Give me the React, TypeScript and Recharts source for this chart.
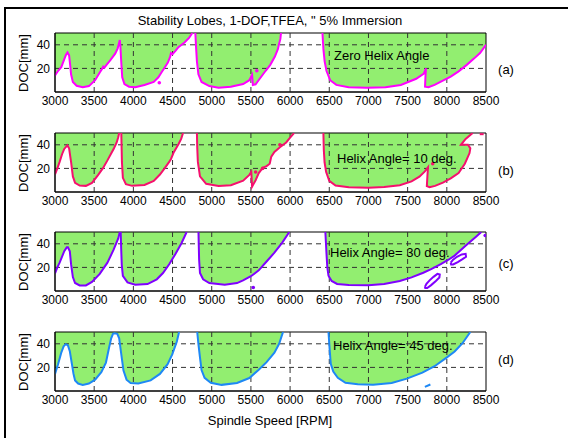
import React from 'react';
import {
  ComposedChart, Area, Line, Scatter, XAxis, YAxis, ReferenceLine, ReferenceArea,
} from 'recharts';

type P = [number, number];

const RPM_TICKS = [3000, 3500, 4000, 4500, 5000, 5500, 6000, 6500, 7000, 7500, 8000, 8500];
const DOC_TICKS = [20, 40];
const GRID_X = [3500, 4000, 4500, 5000, 5500, 6000, 6500, 7000, 7500, 8000];
const TOP = 50;

// ---- Panel (a): zero helix angle ----
const lobeA1: P[] = [[3000,14],[3040,18],[3080,21],[3120,28],[3140,31.5],[3160,33.5],[3180,31],[3195,22],[3205,15],[3228,8.5],[3276,5.3],[3354,4],[3433,5],[3512,10],[3571,16.5],[3600,19.5],[3615,21.5],[3630,20.5],[3650,22.4],[3709,27.2],[3768,32.5],[3800,37],[3815,41],[3827,44],[3835,38],[3845,26],[3858,12.5],[3886,6.7],[3945,4.5],[4024,4],[4142,5.9],[4260,8.5],[4319,12.5],[4358,16.5],[4398,20.5],[4440,25],[4470,30],[4480,33],[4500,32],[4540,35],[4575,38],[4653,42],[4713,46],[4752,50]];
const lobeA2: P[] = [[4791,50],[4800,38],[4811,26],[4830,15],[4870,8.5],[4969,5],[5087,3.7],[5244,4.5],[5401,6.7],[5480,10],[5515,14.5],[5525,6],[5560,6.5],[5610,11],[5688,18],[5747,23],[5806,30],[5845,36.5],[5860,41],[5876,45],[5884,50]];
const lobeA3: P[] = [[6413,50],[6425,36.5],[6441,26],[6464,18],[6511,10],[6590,6],[6747,4],[6982,3.5],[7217,4],[7413,6],[7609,11.2],[7707,15.7],[7734,20],[7727,12.5],[7722,4.5],[7766,4],[7844,6],[7962,10],[8050,13],[8150,17.5],[8254,23],[8350,28.5],[8424,33],[8500,40]];
const dotsA: P[] = [[4331,7.8],[5575,18]];

// ---- Panel (b): helix angle 10 deg ----
const lobeB1: P[] = [[3000,15],[3030,20],[3059,25.5],[3090,32],[3118,36.5],[3157,39.5],[3180,37],[3195,30],[3205,25.5],[3228,13.2],[3256,7.7],[3315,5.5],[3394,5.2],[3472,7.7],[3551,14.5],[3610,20],[3669,26.8],[3720,33],[3748,36.4],[3787,42],[3805,46],[3819,50]];
const lobeB2: P[] = [[3846,50],[3850,38],[3854,25.5],[3866,12],[3905,6.6],[3984,5.2],[4142,6],[4260,9.3],[4339,14.8],[4398,20],[4430,23],[4457,25.5],[4480,28],[4516,33.7],[4575,40.5],[4610,45],[4634,50]];
const lobeB3: P[] = [[4811,50],[4815,38],[4823,25.5],[4850,13.2],[4929,6.9],[5087,5],[5244,5.8],[5401,9.6],[5480,14.5],[5505,17],[5515,4.5],[5560,10],[5600,16],[5650,20.5],[5700,22],[5740,24],[5760,30],[5800,34],[5870,38],[5950,42],[6000,46],[6050,50]];
const lobeB4: P[] = [[6425,50],[6430,36],[6440,25],[6460,17],[6500,9.5],[6580,5.5],[6750,4],[7000,3.5],[7200,4.2],[7400,5.8],[7550,9],[7650,13],[7720,17.5],[7760,21],[7752,13],[7745,5],[7780,4],[7850,5.2],[7950,8],[8050,11.5],[8150,16],[8230,24],[8290,33],[8300,37],[8270,40],[8180,40],[8240,45],[8330,50]];
const segB5: P[] = [[8420,49],[8470,49]];
const dotsB: P[] = [[5560,17],[5650,20],[5870,40],[7820,24]];

// ---- Panel (c): helix angle 30 deg ----
const lobeC1: P[] = [[3000,15],[3030,20],[3059,24],[3118,33.7],[3150,37],[3165,37],[3189,33.7],[3205,22.7],[3228,11.8],[3256,6.8],[3315,4.7],[3394,4.7],[3472,7.7],[3571,14.5],[3669,24],[3748,35],[3807,44.6],[3827,50]];
const lobeC2: P[] = [[3838,50],[3845,35],[3852,22],[3866,12.9],[3925,7.3],[4024,5.3],[4181,5.9],[4299,9.9],[4378,15.2],[4457,22.7],[4535,31.2],[4614,40.5],[4680,50]];
const lobeC3: P[] = [[4831,50],[4835,38],[4839,26.7],[4850,15.2],[4890,9.9],[4969,6.7],[5166,5.3],[5323,6.7],[5400,9],[5500,12.5],[5600,17.5],[5700,25],[5800,32.5],[5900,41],[5990,50]];
const lobeC4: P[] = [[6450,50],[6458,40],[6465,31],[6475,20],[6490,13],[6530,8.5],[6600,6],[6750,5],[7000,4.8],[7200,6],[7400,8.5],[7550,11.5],[7700,15.5],[7800,18.5],[7923,22.7],[8021,26.5],[8100,30],[8250,39],[8380,46.5],[8440,50]];
const loopC1: P[] = [[7720,3.5],[7740,6],[7780,9],[7830,12],[7880,14.5],[7910,14],[7905,11.5],[7860,8.5],[7800,5],[7750,2.5],[7725,2.5],[7720,3.5]];
const loopC2: P[] = [[8050,24],[8080,26.5],[8130,29],[8190,31],[8240,31.5],[8245,29],[8200,27],[8140,24.5],[8080,22.5],[8055,22.5],[8050,24]];
const dotsC: P[] = [[5530,3],[8490,47]];

// ---- Panel (d): helix angle 45 deg ----
const lobeD1: P[] = [[3000,14.5],[3039,22.7],[3079,32.3],[3110,37.8],[3138,39.7],[3165,38.6],[3189,33.7],[3216,22.7],[3236,14.5],[3256,9],[3295,6.3],[3354,5.2],[3433,6.3],[3512,9.6],[3591,15.9],[3650,24.1],[3689,36.4],[3717,44.6],[3740,48.5],[3760,49],[3795,48.5],[3819,44.6],[3846,31],[3874,17.3],[3913,9.6],[3965,6.8],[4063,6.3],[4220,9],[4339,14.5],[4437,22.7],[4496,31],[4555,41.9],[4583,50]];
const lobeD2: P[] = [[4815,50],[4830,40],[4850,28.5],[4870,17.8],[4909,11.2],[4988,7],[5126,5.2],[5323,6.8],[5480,11],[5600,18],[5700,24.5],[5800,32.5],[5860,40],[5910,50]];
const lobeD3: P[] = [[6490,50],[6500,40],[6504,36],[6519,23],[6551,16.5],[6609,11.2],[6707,7],[6864,5.7],[7060,5.3],[7296,6.8],[7491,10.5],[7688,15.5],[7844,21],[8001,28.5],[8100,33.5],[8200,40.5],[8300,50]];
const segD4: P[] = [[7720,3.5],[7790,5.5]];

const GREEN = '#92EE70';
const FONT = '"Liberation Sans", Arial, sans-serif';

const toRows = (pts: P[]) => pts.map(([rpm, doc]) => ({ rpm, doc }));

type PanelDef = {
  top: number;
  color: string;
  lobes: P[][];
  loops: P[][];
  dots: P[];
  tag: string;
  tagY: number;
  note: string;
  noteX: number;
  noteY: number;
};

const PANELS: PanelDef[] = [
  { top: 33, color: '#FF00FF', lobes: [lobeA1, lobeA2, lobeA3], loops: [], dots: dotsA, tag: '(a)', tagY: 69, note: 'Zero Helix Angle', noteX: 334, noteY: 55 },
  { top: 133, color: '#F5106E', lobes: [lobeB1, lobeB2, lobeB3, lobeB4], loops: [segB5], dots: dotsB, tag: '(b)', tagY: 170, note: 'Helix Angle= 10 deg.', noteX: 337, noteY: 158 },
  { top: 232, color: '#8000FF', lobes: [lobeC1, lobeC2, lobeC3, lobeC4], loops: [loopC1, loopC2], dots: dotsC, tag: '(c)', tagY: 263, note: 'Helix Angle= 30 deg.', noteX: 330, noteY: 252 },
  { top: 332, color: '#1E88F5', lobes: [lobeD1, lobeD2, lobeD3], loops: [segD4], dots: [], tag: '(d)', tagY: 359, note: 'Helix Angle= 45 deg.', noteX: 333, noteY: 345 },
];

const PLOT_H = 59;

function Panel({ p }: { p: PanelDef }) {
  const color = p.color;
  return (
    <div style={{ position: 'absolute', left: 0, top: p.top - 5 }}>
      <ComposedChart width={568} height={5 + PLOT_H + 25} margin={{ top: 5, right: 82, bottom: 0, left: 25 }}>
        <XAxis
          type="number" dataKey="rpm" domain={[3000, 8500]} ticks={RPM_TICKS} interval={0}
          allowDataOverflow height={25} tickSize={0} tickMargin={4}
          tick={{ fontSize: 12, fill: '#000', fontFamily: FONT }} axisLine={{ stroke: '#000' }} tickLine={false}
        />
        <YAxis
          type="number" dataKey="doc" domain={[0, TOP]} ticks={DOC_TICKS} interval={0}
          allowDataOverflow width={30} tickSize={0} tickMargin={5}
          tick={{ fontSize: 12, fill: '#000', fontFamily: FONT }} axisLine={{ stroke: '#000' }} tickLine={false}
        />
        {p.lobes.map((l, i) => (
          <Area key={'a' + i} data={toRows(l)} dataKey={(d: any) => [d.doc, TOP]} type="linear"
            stroke="none" fill={GREEN} fillOpacity={1} isAnimationActive={false} />
        ))}
        {GRID_X.map((x) => (
          <ReferenceLine key={'gx' + x} x={x} stroke="#333" strokeWidth={1} strokeDasharray="5 4" />
        ))}
        {DOC_TICKS.map((y) => (
          <ReferenceLine key={'gy' + y} y={y} stroke="#333" strokeWidth={1} strokeDasharray="5 4" />
        ))}
        {p.lobes.map((l, i) => (
          <Line key={'l' + i} data={toRows(l)} dataKey="doc" type="linear" stroke={color}
            strokeWidth={2} dot={false} isAnimationActive={false} />
        ))}
        {p.loops.map((l, i) => (
          <Line key={'o' + i} data={toRows(l)} dataKey="doc" type="linear" stroke={color}
            strokeWidth={2} dot={false} isAnimationActive={false} />
        ))}
        {p.dots.length > 0 && (
          <Scatter data={toRows(p.dots)} dataKey="doc" fill={color} isAnimationActive={false}
            shape={(s: any) => <circle cx={s.cx} cy={s.cy} r={1.8} fill={color} />} />
        )}
        <ReferenceArea x1={3000} x2={8500} y1={0} y2={TOP} fill="none" stroke="#000" strokeWidth={1} ifOverflow="visible" />
      </ComposedChart>
    </div>
  );
}

const txt = (s: string, x: number, y: number, extra: React.CSSProperties = {}) => (
  <div style={{
    position: 'absolute', left: x, top: y, transform: 'translate(-50%, -50%)',
    fontFamily: FONT, fontSize: 13, color: '#000', whiteSpace: 'nowrap', lineHeight: 1, ...extra,
  }}>{s}</div>
);

export default function App() {
  return (
    <div style={{ position: 'absolute', left: 0, top: 0, width: 568, height: 438, overflow: 'hidden', background: '#fff' }}>
      <div style={{ position: 'absolute', left: 4, top: 7, width: 700, height: 600, borderLeft: '2px solid #000', borderTop: '2px solid #000' }} />
      {PANELS.map((p) => <Panel key={p.tag} p={p} />)}
      {txt('Stability Lobes, 1-DOF,TFEA, " 5% Immersion', 270, 20)}
      {PANELS.map((p) => (
        <React.Fragment key={'t' + p.tag}>
          {txt('DOC[mm]', 23, p.top + PLOT_H / 2, { transform: 'translate(-50%, -50%) rotate(-90deg)' })}
          {txt(p.tag, 506, p.tagY)}
          <div style={{ position: 'absolute', left: p.noteX, top: p.noteY, transform: 'translateY(-50%)', fontFamily: FONT, fontSize: 13, lineHeight: 1, whiteSpace: 'nowrap' }}>{p.note}</div>
        </React.Fragment>
      ))}
      {txt('Spindle Speed [RPM]', 270, 420)}
    </div>
  );
}
